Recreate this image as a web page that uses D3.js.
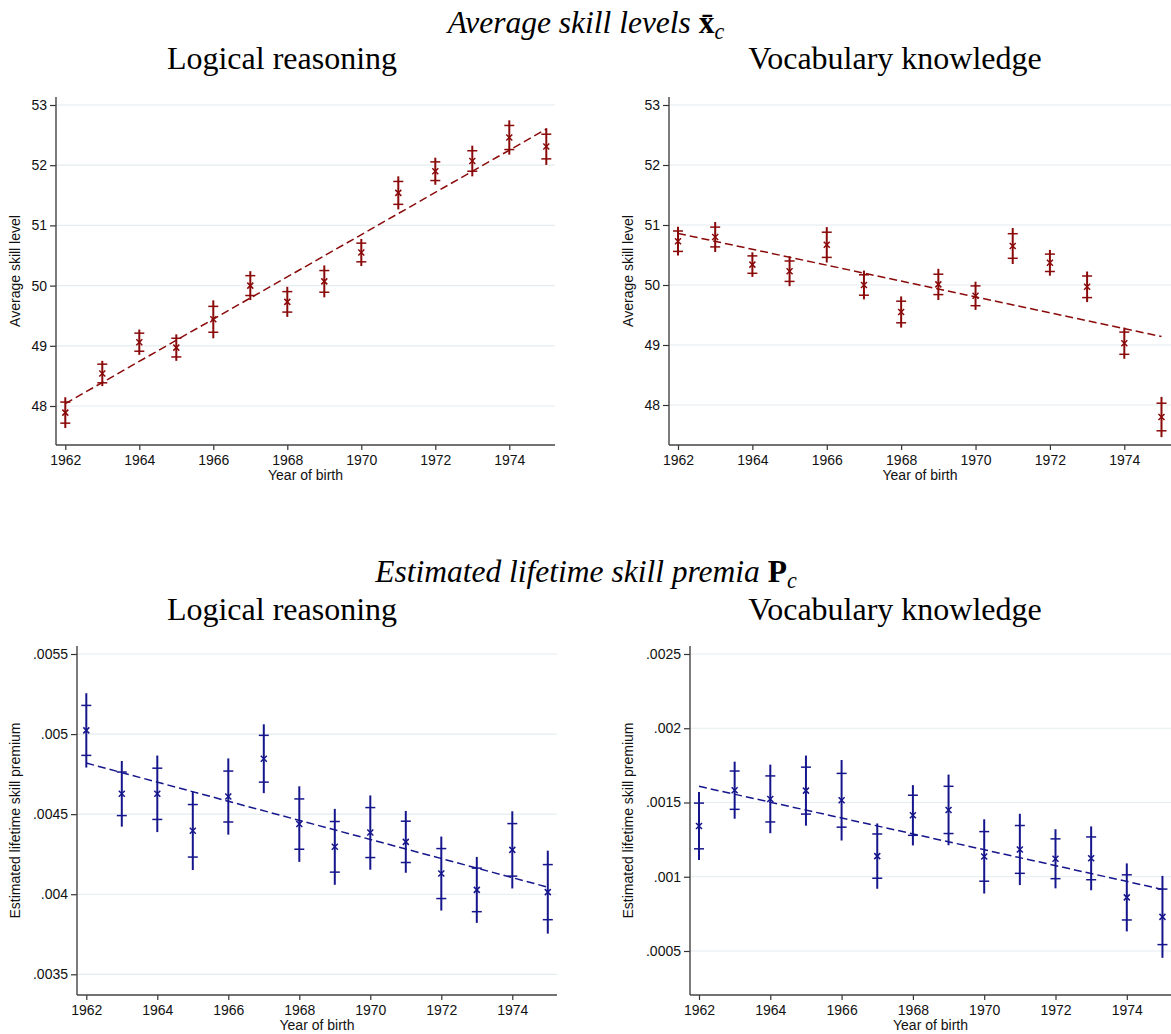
<!DOCTYPE html>
<html>
<head>
<meta charset="utf-8">
<script src="https://cdn.jsdelivr.net/npm/d3@7"></script>
<style>
  body { margin: 0; background: #fff; }
  svg { display: block; }
</style>
</head>
<body>
<script>
// Data
const years = [1962, 1963, 1964, 1965, 1966, 1967, 1968, 1969, 1970, 1971, 1972, 1973, 1974, 1975];
const xTicks = [1962, 1964, 1966, 1968, 1970, 1972, 1974];

// Average skill level, logical reasoning
const logicLevel = [47.89, 48.54, 49.06, 48.97, 49.44, 50.00, 49.73, 50.07, 50.55, 51.54, 51.90, 52.07, 52.46, 52.31];
const logicLevelInner = [0.175, 0.155, 0.15, 0.155, 0.215, 0.165, 0.17, 0.18, 0.155, 0.19, 0.155, 0.17, 0.20, 0.205];
const logicLevelOuter = [0.255, 0.21, 0.21, 0.22, 0.315, 0.24, 0.25, 0.265, 0.225, 0.275, 0.225, 0.255, 0.285, 0.305];
const logicLevelFit = [48.04, 52.60];

// Average skill level, vocabulary knowledge
const vocabLevel = [50.73, 50.80, 50.34, 50.23, 50.67, 50.00, 49.55, 50.01, 49.82, 50.65, 50.37, 49.97, 49.03, 47.80];
const vocabLevelInner = [0.17, 0.165, 0.145, 0.17, 0.21, 0.17, 0.18, 0.17, 0.165, 0.205, 0.145, 0.18, 0.185, 0.23];
const vocabLevelOuter = [0.24, 0.25, 0.205, 0.25, 0.295, 0.24, 0.26, 0.26, 0.235, 0.30, 0.215, 0.255, 0.26, 0.335];
const vocabLevelFit = [50.86, 49.14];

// Estimated lifetime skill premium, logical reasoning
const logicPremium = [0.005023, 0.004627, 0.004627, 0.004396, 0.004610, 0.004846, 0.004438, 0.004296, 0.004385, 0.004327, 0.004129, 0.004027, 0.004277, 0.004013];
const logicPremiumInner = [0.000156, 0.000136, 0.000160, 0.000164, 0.000159, 0.000146, 0.000157, 0.000158, 0.000156, 0.000129, 0.000156, 0.000136, 0.000164, 0.000172];
const logicPremiumOuter = [0.000232, 0.000205, 0.000239, 0.000245, 0.000238, 0.000215, 0.000236, 0.000237, 0.000232, 0.000193, 0.000231, 0.000206, 0.000241, 0.000259];
const logicPremiumFit = [0.004819, 0.004044];

// Estimated lifetime skill premium, vocabulary knowledge
const vocabPremium = [0.001342, 0.001583, 0.001524, 0.001580, 0.001515, 0.001139, 0.001414, 0.001450, 0.001137, 0.001184, 0.001121, 0.001124, 0.000861, 0.000730];
const vocabPremiumInner = [0.000154, 0.000129, 0.000155, 0.000158, 0.000181, 0.000149, 0.000135, 0.000159, 0.000167, 0.000161, 0.000134, 0.000144, 0.000152, 0.000187];
const vocabPremiumOuter = [0.000229, 0.000192, 0.000231, 0.000236, 0.000271, 0.000220, 0.000203, 0.000238, 0.000250, 0.000240, 0.000199, 0.000215, 0.000229, 0.000276];
const vocabPremiumFit = [0.001609, 0.000915];

// Y tick values
const levelTicks = [48, 49, 50, 51, 52, 53];
const logicPremiumTicks = [0.0035, 0.004, 0.0045, 0.005, 0.0055];
const vocabPremiumTicks = [0.0005, 0.001, 0.0015, 0.002, 0.0025];

const maroon = "#8a0a0a";
const navy = "#16168c";
const sans = "'Liberation Sans', Arial, Helvetica, sans-serif";
const serif = "'Liberation Serif', 'Times New Roman', serif";

const svg = d3.select("body").append("svg")
    .attr("width", 1171)
    .attr("height", 1034);

// Stata style decimals: .004, .0045
const decFormat = d => String(+d.toFixed(4)).replace(/^0\./, ".");

function title(x, y, parts, size) {
    const t = svg.append("text")
        .attr("x", x)
        .attr("y", y)
        .attr("text-anchor", "middle")
        .attr("font-family", serif)
        .attr("font-size", size)
        .attr("fill", "#000");
    parts.forEach(p => {
        t.append("tspan")
            .attr("font-style", p.italic ? "italic" : "normal")
            .attr("font-weight", p.bold ? "bold" : "normal")
            .attr("font-size", p.sub ? size * 0.7 : size)
            .attr("dy", p.dy || 0)
            .text(p.text);
    });
}

function drawPanel(p) {
    const g = svg.append("g");
    const x = d3.scaleLinear().domain([1962, 1974]).range([p.x0, p.x1]);
    const y = d3.scaleLinear().domain([p.ticks[0], p.ticks[p.ticks.length - 1]]).range([p.y0, p.y1]);

    // gridlines
    g.selectAll(".grid").data(p.ticks).join("line")
        .attr("x1", p.left).attr("x2", p.right)
        .attr("y1", d => y(d)).attr("y2", d => y(d))
        .attr("stroke", "#e3ecef")
        .attr("stroke-width", 1.2);

    // y axis
    const yAxis = g.append("g")
        .attr("transform", `translate(${p.left},0)`)
        .call(d3.axisLeft(y).tickValues(p.ticks).tickFormat(p.fmt).tickSize(6).tickPadding(3));
    yAxis.select(".domain").remove();

    // x axis
    const xAxis = g.append("g")
        .attr("transform", `translate(0,${p.bottom})`)
        .call(d3.axisBottom(x).tickValues(xTicks).tickFormat(d3.format("d")).tickSize(5).tickPadding(5));
    xAxis.select(".domain").remove();

    [yAxis, xAxis].forEach(a => {
        a.selectAll("text").attr("font-family", sans).attr("font-size", 14).attr("fill", "#111");
        a.selectAll("line").attr("stroke", "#333").attr("stroke-width", 1.2);
    });

    // axis lines
    g.append("line")
        .attr("x1", p.left).attr("x2", p.left)
        .attr("y1", p.top).attr("y2", p.bottom)
        .attr("stroke", "#444").attr("stroke-width", 1.4);
    g.append("line")
        .attr("x1", p.left).attr("x2", p.right)
        .attr("y1", p.bottom).attr("y2", p.bottom)
        .attr("stroke", "#444").attr("stroke-width", 1.4);

    // axis titles
    g.append("text")
        .attr("x", (p.left + p.right) / 2)
        .attr("y", p.bottom + 35)
        .attr("text-anchor", "middle")
        .attr("font-family", sans).attr("font-size", 14).attr("fill", "#111")
        .text("Year of birth");
    g.append("text")
        .attr("transform", `translate(${p.yTitleX},${(p.top + p.bottom) / 2}) rotate(-90)`)
        .attr("text-anchor", "middle")
        .attr("dy", "0.35em")
        .attr("font-family", sans).attr("font-size", 14).attr("fill", "#111")
        .text(p.yTitle);

    const pts = years.map((yr, i) => ({
        yr, est: p.est[i], inner: p.inner[i], outer: p.outer[i]
    }));

    // fitted line
    g.append("line")
        .attr("x1", x(years[0])).attr("y1", y(p.fit[0]))
        .attr("x2", x(years[years.length - 1])).attr("y2", y(p.fit[1]))
        .attr("stroke", p.color).attr("stroke-width", 1.5)
        .attr("stroke-dasharray", "8,4");

    // outer interval spikes
    g.selectAll(".spike").data(pts).join("line")
        .attr("x1", d => x(d.yr)).attr("x2", d => x(d.yr))
        .attr("y1", d => y(d.est - d.outer)).attr("y2", d => y(d.est + d.outer))
        .attr("stroke", p.color).attr("stroke-width", 2);

    // inner bounds as "+" markers
    const bounds = pts.flatMap(d => [
        { yr: d.yr, v: d.est - d.inner },
        { yr: d.yr, v: d.est + d.inner }
    ]);
    g.selectAll(".plush").data(bounds).join("line")
        .attr("x1", d => x(d.yr) - 5).attr("x2", d => x(d.yr) + 5)
        .attr("y1", d => y(d.v)).attr("y2", d => y(d.v))
        .attr("stroke", p.color).attr("stroke-width", 1.5);

    // estimate "x" markers
    const s = 3;
    g.selectAll(".xa").data(pts).join("path")
        .attr("d", d => {
            const cx = x(d.yr), cy = y(d.est);
            return `M${cx - s},${cy - s}L${cx + s},${cy + s}M${cx - s},${cy + s}L${cx + s},${cy - s}`;
        })
        .attr("stroke", p.color).attr("stroke-width", 1.5).attr("fill", "none");
}

// Titles
title(586, 33, [
    { text: "Average skill levels ", italic: true },
    { text: "x\u0304", bold: true },
    { text: "c", italic: true, sub: true, dy: 6 }
], 31.5);
title(586, 582, [
    { text: "Estimated lifetime skill premia ", italic: true },
    { text: "P", bold: true },
    { text: "c", italic: true, sub: true, dy: 6 }
], 31.5);
title(282, 69, [{ text: "Logical reasoning" }], 32);
title(895, 69, [{ text: "Vocabulary knowledge" }], 32);
title(282, 620, [{ text: "Logical reasoning" }], 32);
title(895, 620, [{ text: "Vocabulary knowledge" }], 32);

drawPanel({
    left: 56, right: 555, top: 97, bottom: 445,
    x0: 65.3, x1: 509.3, y0: 406, y1: 105,
    ticks: levelTicks, fmt: d3.format("d"),
    est: logicLevel, inner: logicLevelInner, outer: logicLevelOuter, fit: logicLevelFit,
    color: maroon, yTitle: "Average skill level", yTitleX: 15
});
drawPanel({
    left: 669, right: 1171, top: 97, bottom: 445,
    x0: 678, x1: 1124.3, y0: 405, y1: 105,
    ticks: levelTicks, fmt: d3.format("d"),
    est: vocabLevel, inner: vocabLevelInner, outer: vocabLevelOuter, fit: vocabLevelFit,
    color: maroon, yTitle: "Average skill level", yTitleX: 628
});
drawPanel({
    left: 77, right: 557, top: 646, bottom: 995,
    x0: 86.3, x1: 512.3, y0: 974.3, y1: 654,
    ticks: logicPremiumTicks, fmt: decFormat,
    est: logicPremium, inner: logicPremiumInner, outer: logicPremiumOuter, fit: logicPremiumFit,
    color: navy, yTitle: "Estimated lifetime skill premium", yTitleX: 15
});
drawPanel({
    left: 690, right: 1171, top: 646, bottom: 995,
    x0: 699, x1: 1126.8, y0: 951, y1: 654,
    ticks: vocabPremiumTicks, fmt: decFormat,
    est: vocabPremium, inner: vocabPremiumInner, outer: vocabPremiumOuter, fit: vocabPremiumFit,
    color: navy, yTitle: "Estimated lifetime skill premium", yTitleX: 628
});
</script>
</body>
</html>
